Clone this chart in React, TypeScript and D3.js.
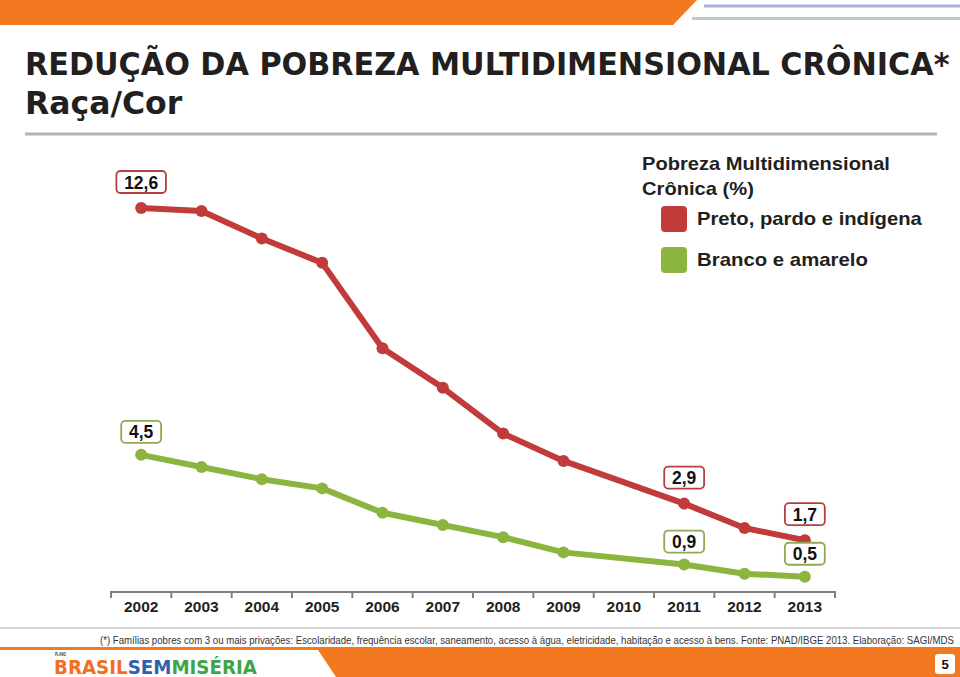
import React, { useLayoutEffect, useRef, useState } from 'react';
import * as d3 from 'd3';

const years = ['2002', '2003', '2004', '2005', '2006', '2007', '2008', '2009', '2010', '2011', '2012', '2013'];
const pretoValues: (number | null)[] = [12.6, 12.5, 11.6, 10.8, 8.0, 6.7, 5.2, 4.3, null, 2.9, 2.1, 1.7];
const brancoValues: (number | null)[] = [4.5, 4.1, 3.7, 3.4, 2.6, 2.2, 1.8, 1.3, null, 0.9, 0.6, 0.5];
const labeledYears = ['2002', '2011', '2013'];
const seriesNames = ['Preto, pardo e indígena', 'Branco e amarelo'];
const legendTitle = ['Pobreza Multidimensional', 'Crônica (%)'];
const titleLines = ['REDUÇÃO DA POBREZA MULTIDIMENSIONAL CRÔNICA*', 'Raça/Cor'];
const footnote = '(*) Famílias pobres com 3 ou mais privações: Escolaridade, frequência escolar, saneamento, acesso à água, eletricidade, habitação e acesso à bens. Fonte: PNAD/IBGE 2013. Elaboração: SAGI/MDS';
const logoWords = ['BRASIL', 'SEM', 'MISÉRIA'];
const logoColors = ['#f26f21', '#2c62b0', '#3aa647'];

const W = 960;
const H = 677;
const ORANGE = '#f37920';
const RED = '#c23b3b';
const GREEN = '#8cb53f';

const fmt = (v: number) => v.toFixed(1).replace('.', ',');

function FitText(props: any) {
  const { x, y, width, children, ...rest } = props;
  const ref = useRef<SVGTextElement>(null);
  const [s, setS] = useState(1);
  useLayoutEffect(() => {
    const el = ref.current;
    if (el) {
      const w = el.getComputedTextLength();
      if (w > 0) setS(width / w);
    }
  }, [width]);
  return (
    <text ref={ref} transform={`translate(${x},${y}) scale(${s},1)`} x={0} y={0} {...rest}>
      {children}
    </text>
  );
}

export default function App() {
  const x = d3.scaleBand<string>().domain(years).range([111, 835]).padding(0);
  const y = d3.scaleLinear().domain([0, 12.6]).range([592, 208]);
  const cx = (yr: string) => (x(yr) as number) + x.bandwidth() / 2;

  const series = [
    { name: seriesNames[0], values: pretoValues, color: RED, border: '#b24040', lw: 225 },
    { name: seriesNames[1], values: brancoValues, color: GREEN, border: '#8eaa52', lw: 171 },
  ];

  const line = d3
    .line<{ yr: string; v: number }>()
    .x((d) => cx(d.yr))
    .y((d) => y(d.v));

  const labelWidth = (s: string) => {
    let w = 0;
    for (const c of s) w += c === ',' ? 4.7 : 9.6;
    return w + 16;
  };

  const ticks = [...years.map((yr) => x(yr) as number), 835];

  return (
    <svg width={W} height={H} style={{ position: 'absolute', left: 0, top: 0 }} fontFamily="'Liberation Sans', Arial, sans-serif">
      <rect x={0} y={0} width={W} height={H} fill="#ffffff" />
      {/* header */}
      <polygon points="0,0 697,0 673,25 0,25" fill={ORANGE} />
      <line x1={704} y1={6} x2={960} y2={6} stroke="#aab3d8" strokeWidth={3} />
      <line x1={692} y1={18.5} x2={960} y2={18.5} stroke="#b9cfb8" strokeWidth={3} />

      {/* title */}
      <FitText x={25} y={75} width={925} fontFamily="'DejaVu Sans', Verdana, sans-serif" fontWeight="bold" fontSize={32.5} fill="#231f20">
        {titleLines[0]}
      </FitText>
      <text x={25} y={114} fontFamily="'DejaVu Sans', Verdana, sans-serif" fontWeight="bold" fontSize={31.5} fill="#231f20">
        {titleLines[1]}
      </text>
      <line x1={25} y1={134} x2={937} y2={134} stroke="#b3b3b3" strokeWidth={3} />

      {/* legend */}
      <FitText x={642} y={170} width={248} fontWeight="bold" fontSize={18} fill="#231f20">{legendTitle[0]}</FitText>
      <FitText x={642} y={195} width={112} fontWeight="bold" fontSize={18} fill="#231f20">{legendTitle[1]}</FitText>
      {series.map((s, i) => (
        <g key={s.name}>
          <rect x={661} y={206 + i * 41} width={26} height={26} rx={4} fill={s.color} />
          <FitText x={697} y={225 + i * 41} width={s.lw} fontWeight="bold" fontSize={18} fill="#231f20">{s.name}</FitText>
        </g>
      ))}

      {/* axis */}
      <line x1={111} y1={592} x2={835} y2={592} stroke="#7f7f7f" strokeWidth={2} />
      {ticks.map((t, i) => (
        <line key={i} x1={t} y1={591} x2={t} y2={598} stroke="#7f7f7f" strokeWidth={2} />
      ))}
      {years.map((yr) => (
        <text key={yr} x={cx(yr)} y={612} textAnchor="middle" fontWeight="bold" fontSize={15.5} fill="#231f20">{yr}</text>
      ))}

      {/* series */}
      {series.map((s) => {
        const pts = years
          .map((yr, i) => ({ yr, v: s.values[i] }))
          .filter((d) => d.v !== null) as { yr: string; v: number }[];
        return (
          <g key={s.name}>
            <path d={line(pts) as string} fill="none" stroke={s.color} strokeWidth={6} strokeLinejoin="round" />
            {pts.map((d) => (
              <circle key={d.yr} cx={cx(d.yr)} cy={y(d.v)} r={6} fill={s.color} />
            ))}
            {pts
              .filter((d) => labeledYears.includes(d.yr))
              .map((d) => {
                const label = fmt(d.v);
                const w = labelWidth(label);
                const bx = cx(d.yr);
                const by = y(d.v) - (s.color === RED ? 26 : 23);
                return (
                  <g key={'l' + d.yr}>
                    <rect x={bx - w / 2} y={by - 11} width={w} height={22} rx={4} fill="#ffffff" stroke={s.border} strokeWidth={1.8} />
                    <text x={bx} y={by + 6.5} textAnchor="middle" fontWeight="bold" fontSize={17.5} fill="#111">{label}</text>
                  </g>
                );
              })}
          </g>
        );
      })}

      {/* footer */}
      <line x1={0} y1={628} x2={960} y2={628} stroke="#c8c8c8" strokeWidth={1.5} />
      <FitText x={100} y={644} width={855} fontSize={11} fill="#333">{footnote}</FitText>
      <rect x={0} y={647} width={960} height={3} fill={ORANGE} />
      <polygon points="316,647 960,647 960,677 336,677" fill={ORANGE} />
      <rect x={935} y={654} width={20} height={20} rx={3} fill="#ffffff" />
      <text x={945} y={669} textAnchor="middle" fontWeight="bold" fontSize={13} fill="#111">5</text>

      {/* logo */}
      <FitText x={55} y={655.5} width={11} fontSize={4.5} fontWeight="bold" fill="#333">PLANO</FitText>
      <FitText x={54} y={674} width={203} fontFamily="'DejaVu Sans', sans-serif" fontWeight="bold" fontSize={19}>
        {logoWords.map((w, i) => (
          <tspan key={w} fill={logoColors[i]}>{w}</tspan>
        ))}
      </FitText>
    </svg>
  );
}
